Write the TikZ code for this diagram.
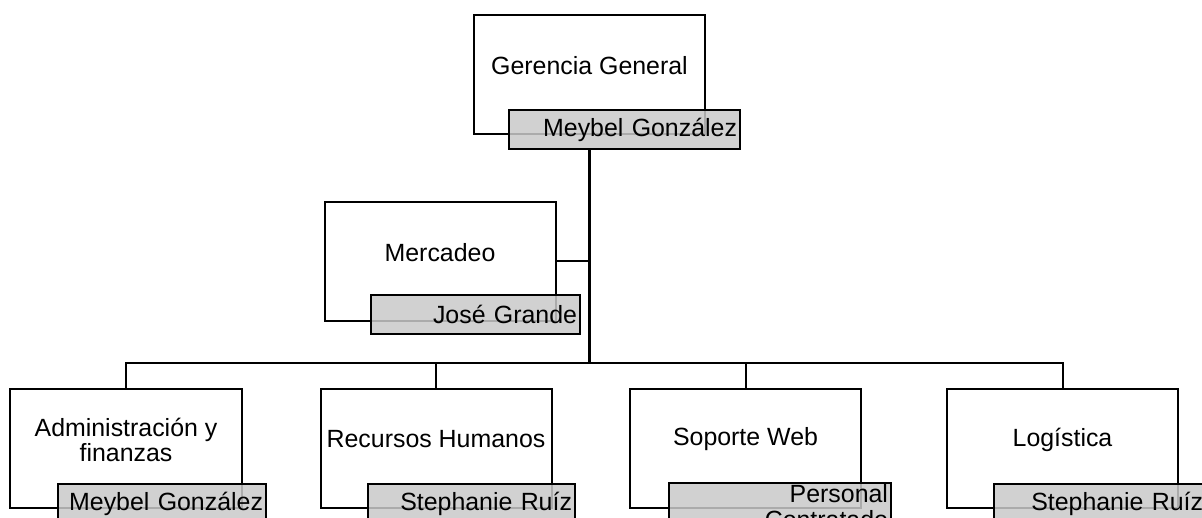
\documentclass[tikz,border=0pt]{standalone}
\usepackage{fontspec}
\setmainfont{Liberation Sans}
\usepackage{tikz}
\definecolor{namegray}{gray}{0.79}
\tikzset{
  unitbox/.style={draw, line width=2bp, minimum width=231bp, minimum height=119bp, inner sep=0pt},
  unittext/.style={align=center, inner sep=0pt, font=\fontsize{25}{25}\selectfont},
  namebox/.style={draw, line width=2bp, fill=namegray, fill opacity=0.85, text opacity=1,
    anchor=north west, minimum height=39bp, inner xsep=3bp, inner ysep=1bp,
    text width=#1, align=right, font=\fontsize{25}{27}\selectfont},
  link/.style={line width=2bp},
  trunk/.style={line width=3bp}
}

\begin{document}
\begin{tikzpicture}[x=1bp, y=-1bp]
  \useasboundingbox (0,0) rectangle (1202,518);
  \clip (0,0) rectangle (1202,518);
  \node[unitbox] (gg) at (589.5,75) {};
  \node[unitbox] (me) at (440,261.5) {};
  \foreach \n/\x in {ad/126, rh/436, sw/745.5, lo/1062.5}
    \node[unitbox] (\n) at (\x,448.5) {};
  % connectors
  \coordinate (bus) at (589.5,363);
  \draw[link] (ad.north) |- (bus) -| (lo.north);
  \foreach \n in {rh, sw}
    \draw[link] (\n.north) -- (\n.north |- bus);
  \draw[link] (me.east) -- (me.east -| bus);
  % names
  \node[namebox=225bp] (ggn) at (508,109) {Meybel González};
  \node[namebox=203bp] (men) at (370,294) {José Grande};
  \node[namebox=202bp] (adn) at (57,483) {Meybel González};
  \node[namebox=201bp] (rhn) at (367,483) {Stephanie Ruíz};
  \node[namebox=216bp] (swn) at (668,482) {Personal Contratado};
  \node[namebox=206bp] (lon) at (993,483) {Stephanie Ruíz};
  \draw[trunk] (gg.south |- ggn.south) -- (bus);
  % unit labels
  \node[unittext] (ggt) at ([yshift=9bp]gg.center) {Gerencia General};
  \node[unittext] (met) at ([yshift=9bp]me.center) {Mercadeo};
  \node[unittext] (adt) at ([yshift=9bp]ad.center) {Administración y\\finanzas};
  \node[unittext] (rht) at ([yshift=9bp]rh.center) {Recursos Humanos};
  \node[unittext] (swt) at ([yshift=9bp]sw.center) {Soporte Web};
  \node[unittext] (lot) at ([yshift=9bp]lo.center) {Logística};
\end{tikzpicture}
\end{document}
